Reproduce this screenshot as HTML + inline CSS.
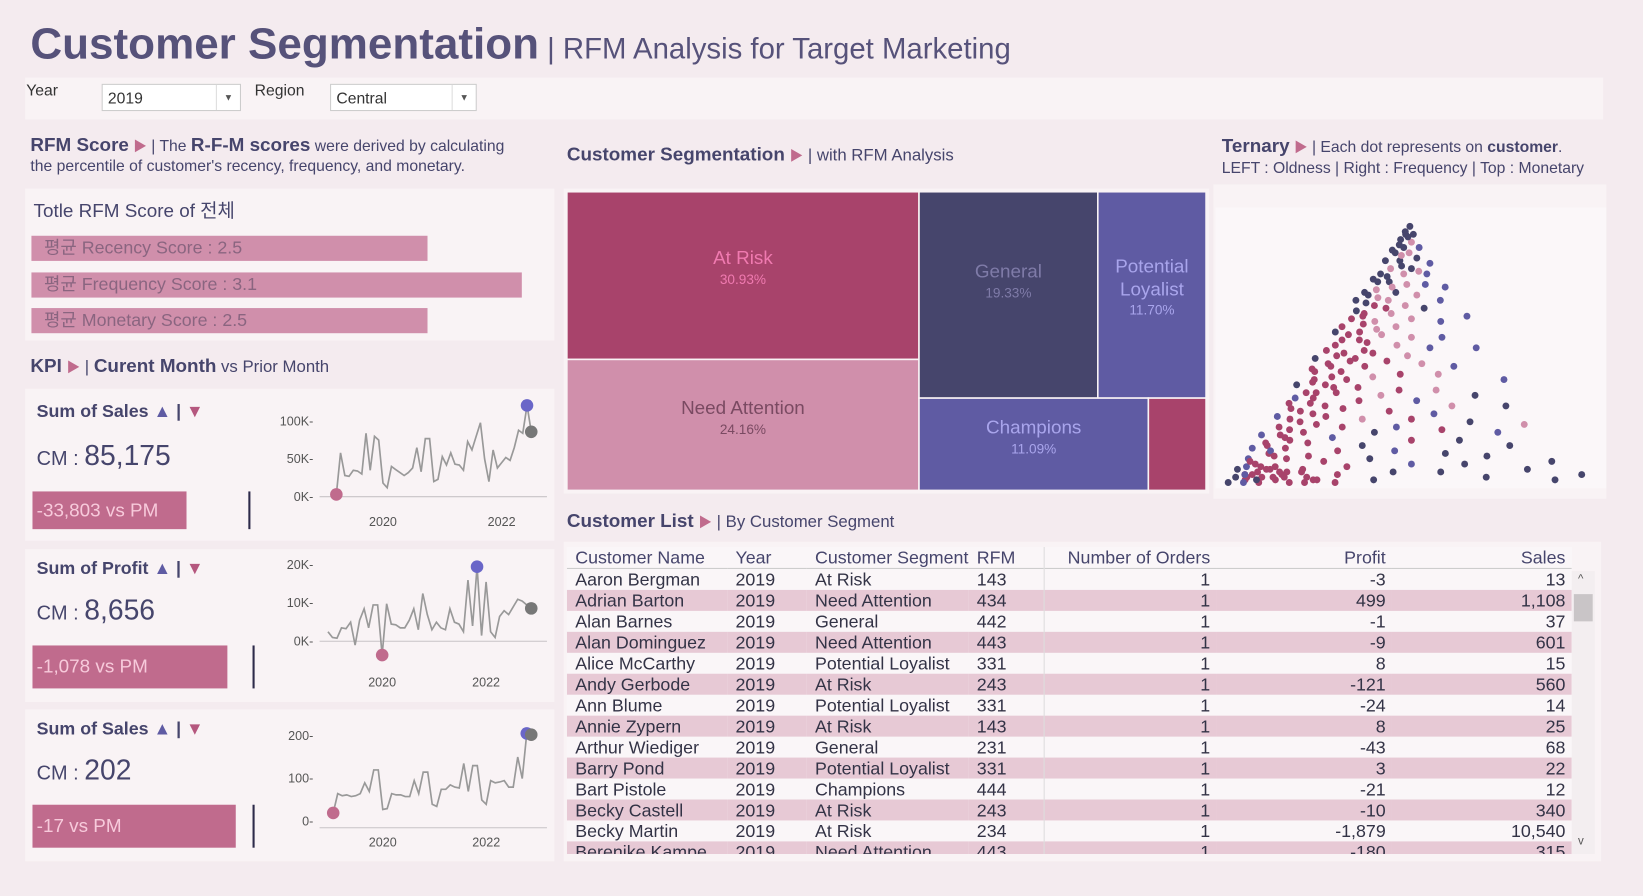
<!DOCTYPE html>
<html><head><meta charset="utf-8">
<style>
html,body{margin:0;padding:0;background:#f4ebef;overflow:hidden;width:1643px;height:896px}
#root{position:absolute;left:0;top:0;width:1568px;height:855px;transform:scale(1.04783);transform-origin:0 0;font-family:"Liberation Sans","Noto Sans CJK KR",sans-serif;color:#46456c}
.a{position:absolute;white-space:nowrap}
.panel{position:absolute;background:#f9f3f5}
.b{font-weight:bold}
.tri{color:#c06b8d;font-size:13px}
.dd{position:absolute;background:#fff;border:1px solid #ccc;height:26px;font-size:15px;line-height:28px;padding-left:5px;box-sizing:border-box;color:#333}
.dd span{position:absolute;right:0;top:0;width:22px;height:24px;border-left:1px solid #ddd;text-align:center;font-size:9px;color:#555;line-height:24px}
.bar{position:absolute;left:30px;height:24px;background:#d08fab;color:#8a6580;font-size:17px;line-height:24px;padding-left:12px;box-sizing:border-box}
.kt{font-size:17px;font-weight:bold;color:#46456c}
.cm{font-size:19px;color:#46456c}
.cm b{font-size:27px;font-weight:normal}
.box{position:absolute;left:31px;background:#c06b8d;color:#f7cadb;font-size:18px;padding-left:4px;box-sizing:border-box}
.vl{position:absolute;width:2px;background:#2d2a4a}
table{border-collapse:collapse;font-size:17px;color:#333346}
td,th{height:20px;padding:0 0 0 8px;font-weight:normal;white-space:nowrap;line-height:19px}
tr.alt td{background:#e7c9d5}
.r{text-align:right;padding-right:6px}
</style></head><body>
<div id="root">
<div class="a" style="left:29px;top:18px;font-size:42px;font-weight:bold;color:#56527a">Customer Segmentation<span style="font-size:28px;font-weight:normal"> | RFM Analysis for Target Marketing</span></div>

<div class="panel" style="left:24px;top:74px;width:1506px;height:40px"></div>
<div class="a" style="left:25px;top:78px;font-size:15px;color:#333">Year</div>
<div class="dd" style="left:97px;top:80px;width:133px">2019<span>▼</span></div>
<div class="a" style="left:243px;top:78px;font-size:15px;color:#333">Region</div>
<div class="dd" style="left:315px;top:80px;width:140px">Central<span>▼</span></div>

<div class="a" style="left:29px;top:129px;font-size:15px;line-height:19px;color:#46456c"><span class="b" style="font-size:18px">RFM Score</span> <span class="tri">▶</span> | The <span class="b" style="font-size:18px">R-F-M scores</span> were derived by calculating<br>the percentile of customer's recency, frequency, and monetary.</div>

<div class="panel" style="left:24px;top:180px;width:505px;height:145px"></div>
<div class="a" style="left:32px;top:187px;font-size:18px;color:#46456c">Totle RFM Score of 전체</div>
<div id="bars"></div>

<div class="a" style="left:29px;top:339px;font-size:16px;color:#46456c"><span class="b" style="font-size:18px">KPI</span> <span class="tri">▶</span> | <span class="b" style="font-size:18px">Curent Month</span> vs Prior Month</div>

<div class="panel" style="left:24px;top:371px;width:505px;height:145px"></div>
<div class="panel" style="left:24px;top:524px;width:505px;height:146px"></div>
<div class="panel" style="left:24px;top:677px;width:505px;height:145px"></div>

<div class="a kt" style="left:35px;top:383px">Sum of Sales <span style="color:#5f5ba3">▲</span> | <span style="color:#b5577e">▼</span></div>
<div class="a cm" style="left:35px;top:420px">CM : <b>85,175</b></div>
<div class="box" style="top:469px;width:147px;height:36px;line-height:36px">-33,803 vs PM</div>
<div class="vl" style="left:237px;top:469px;height:36px"></div>

<div class="a kt" style="left:35px;top:533px">Sum of Profit <span style="color:#5f5ba3">▲</span> | <span style="color:#b5577e">▼</span></div>
<div class="a cm" style="left:35px;top:567px">CM : <b>8,656</b></div>
<div class="box" style="top:616px;width:186px;height:41px;line-height:41px">-1,078 vs PM</div>
<div class="vl" style="left:241px;top:616px;height:41px"></div>

<div class="a kt" style="left:35px;top:686px">Sum of Sales <span style="color:#5f5ba3">▲</span> | <span style="color:#b5577e">▼</span></div>
<div class="a cm" style="left:35px;top:720px">CM : <b>202</b></div>
<div class="box" style="top:768px;width:194px;height:41px;line-height:41px">-17 vs PM</div>
<div class="vl" style="left:241px;top:768px;height:41px"></div>

<div class="a" style="left:541px;top:137px;font-size:16px;color:#46456c"><span class="b" style="font-size:18px">Customer Segmentation</span> <span class="tri">▶</span> | with RFM Analysis</div>
<div class="panel" style="left:538px;top:180px;width:616px;height:291px"></div>
<div id="treemap"></div>

<div class="a" style="left:1166px;top:129px;font-size:15px;line-height:20px;color:#46456c"><span class="b" style="font-size:18px">Ternary</span> <span class="tri">▶</span> | Each dot represents on <b>customer</b>.<br>LEFT : Oldness | Right : Frequency | Top : Monetary</div>
<div class="panel" style="left:1158px;top:176px;width:375px;height:300px"></div>
<div class="a" style="left:1160px;top:198px;width:373px;height:268px;background:#fbf7f9"></div>

<div class="a" style="left:541px;top:487px;font-size:16px;color:#46456c"><span class="b" style="font-size:18px">Customer List</span> <span class="tri">▶</span> | By Customer Segment</div>
<div class="panel" style="left:538px;top:517px;width:990px;height:305px;overflow:hidden">
<div style="position:absolute;left:3px;top:5px;width:959px;height:293px;overflow:hidden;background:#faf6f8">
<table id="tbl" style="width:959px">
<colgroup><col style="width:153px"><col style="width:76px"><col style="width:153px"><col style="width:72px"><col style="width:165px"><col style="width:168px"><col style="width:172px"></colgroup>
<thead><tr style="border-bottom:1px solid #ccc;color:#46456c"><th style="text-align:left">Customer Name</th><th style="text-align:left">Year</th><th style="text-align:left">Customer Segment</th><th style="text-align:left">RFM</th><th class="r" style="border-left:1px solid #ddd">Number of Orders</th><th class="r">Profit</th><th class="r">Sales</th></tr></thead>
<tbody id="tbody"></tbody></table>
</div>
<div style="position:absolute;left:962px;top:28px;width:22px;height:270px;background:#f3eef0">
<div style="position:absolute;left:2px;top:22px;width:18px;height:26px;background:#c9c5c7"></div>
<div style="position:absolute;left:6px;top:2px;font-size:11px;color:#555">^</div>
<div style="position:absolute;left:6px;top:252px;font-size:11px;color:#555">v</div>
</div>
</div>

<svg id="svg" width="1568" height="855" style="position:absolute;left:0;top:0"></svg>
</div>

<script>
// ---- RFM score bars ----
const scoreLabels = ["평균 Recency Score : 2.5","평균 Frequency Score : 3.1","평균 Monetary Score : 2.5"];
const scoreValues = [2.5, 3.1, 2.5];
// ---- sparklines ----
const salesValues = [3,58,28,27,35,34,30,84,35,80,75,18,12,40,36,32,28,32,38,65,33,77,77,20,23,53,42,58,43,42,35,73,62,80,98,50,20,62,38,45,52,48,65,88,84,121,86];
const salesTicks = [0,50,100];
const salesTickLabels = ["0K","50K","100K"];
const profitValues = [2.5,1,0.8,3.5,3.3,5,-1,5.5,8.5,3.5,9.5,9.5,-3.6,9.8,4.5,4.3,3.5,3.5,5.5,8.5,3,12.5,7,3,5,3.5,3,8.5,5,4.5,2.5,16,4,19.5,1.5,15.5,2.5,1,6.5,8,7,9,11,10.5,9.5,8.6];
const profitTicks = [0,10,20];
const profitTickLabels = ["0K","10K","20K"];
const qtyValues = [20,65,60,62,58,60,65,90,70,120,120,28,30,65,62,62,58,58,95,65,115,115,40,35,75,75,85,80,78,135,70,130,130,50,40,95,90,92,95,80,80,150,100,205,202];
const qtyTicks = [0,100,200];
const qtyTickLabels = ["0","100","200"];
const yearLabels = ["2020","2022"];
// ---- treemap ----
const segNames = ["At Risk","Need Attention","General","Potential Loyalist","Champions","Other"];
const segShares = [30.93,24.16,19.33,11.70,11.09,2.79];
// ---- ternary: height, distance-from-left-edge, segment ----
const ternH = [.98,.95,.95,.93,.92,.9,.9,.88,.88,.86,.85,.85,.84,.82,.82,.8,.8,.8,.78,.77,.76,.76,.75,.74,.73,.72,.72,.7,.7,.7,.68,.68,.67,.66,.65,.64,.64,.63,.62,.62,.6,.6,.58,.58,.57,.56,.56,.55,.54,.53,.52,.52,.51,.5,.5,.49,.48,.48,.47,.46,.46,.45,.45,.44,.43,.42,.42,.41,.4,.4,.4,.38,.38,.37,.36,.36,.35,.35,.34,.34,.33,.32,.32,.31,.3,.3,.3,.29,.28,.28,.27,.26,.26,.25,.25,.24,.24,.23,.22,.22,.22,.21,.2,.2,.2,.19,.18,.18,.17,.17,.16,.16,.15,.15,.14,.14,.13,.13,.12,.12,.11,.11,.1,.1,.1,.09,.09,.08,.08,.08,.07,.07,.06,.06,.06,.05,.05,.05,.04,.04,.04,.03,.03,.03,.03,.02,.02,.02,.02,.01,.01,.01,.01,.06,.05,.04,.03,.02,.07,.05,.03,.02,.01,.04,
.96,.94,.91,.89,.87,.83,.81,.79,.77,.75,.73,.71,.69,.67,.65,.63,.61,.59,.57,.55,.53,.51,.49,.47,.45,.43,.41,.39,.37,.35,.33,.31,.29,.27,.25,.23,.21,.19,.17,.15,.13,.11,.09,.07,.05,.03,.02,.01,.04,.06];
const ternD = [.3,.2,.6,.1,.5,.3,.7,.15,.45,.6,.05,.3,.8,.2,.5,.1,.4,.7,.05,.25,.45,.65,.85,.15,.35,.55,.1,.02,.3,.75,.2,.45,.6,.08,.35,.9,.15,.5,.25,.7,.05,.4,.03,.18,.32,.5,.68,.1,.25,.42,.6,.85,.05,.15,.3,.48,.02,.22,.38,.1,.55,.7,.28,.04,.18,.45,.62,.33,.08,.22,.9,.02,.14,.28,.45,.6,.08,.2,.38,.75,.12,.3,.52,.04,.18,.65,.85,.25,.1,.42,.58,.03,.2,.33,.5,.7,.12,.88,.06,.27,.45,.6,.15,.38,.78,.02,.1,.25,.5,.65,.05,.18,.35,.8,.02,.12,.28,.45,.08,.6,.2,.72,.03,.14,.38,.9,.25,.06,.5,.65,.12,.32,.02,.2,.82,.08,.45,.58,.15,.3,.96,.03,.1,.22,.7,.06,.14,.4,.88,.02,.1,.18,.3,.11,.16,.07,.13,.24,.04,.2,.06,.09,.22,.05,
.1,.35,.15,.05,.3,.35,.6,.2,.12,.3,.05,.2,.12,.3,.15,.08,.18,.28,.12,.2,.08,.25,.12,.2,.12,.06,.15,.08,.18,.12,.05,.12,.06,.15,.08,.18,.1,.08,.12,.06,.08,.1,.04,.08,.14,.16,.25,.06,.05,.1];
const ternSeg = [2,2,2,2,1,2,3,2,1,2,2,2,3,1,2,2,1,3,2,2,1,3,3,1,2,1,2,2,1,3,0,1,2,2,1,3,0,1,1,3,0,1,2,0,1,1,3,0,0,1,3,3,0,0,0,1,2,0,0,0,1,3,0,0,0,0,1,1,0,0,3,2,0,0,0,1,0,0,1,2,0,0,3,0,0,1,2,0,0,0,3,3,0,1,0,2,0,1,0,0,3,0,0,2,3,3,0,3,0,2,0,0,2,2,3,0,0,3,0,2,0,2,3,0,2,2,0,0,3,2,0,0,2,0,2,0,2,2,0,0,2,2,0,0,2,0,0,2,2,2,0,0,0,0,0,0,0,0,3,0,0,2,0,0,
2,2,2,2,1,2,1,2,2,1,2,1,2,0,0,0,0,1,0,0,0,0,0,0,0,0,0,0,0,0,3,0,0,0,0,0,0,0,0,0,3,0,0,0,0,0,0,3,3,0];
// ---- table ----
const custNames = ["Aaron Bergman","Adrian Barton","Alan Barnes","Alan Dominguez","Alice McCarthy","Andy Gerbode","Ann Blume","Annie Zypern","Arthur Wiediger","Barry Pond","Bart Pistole","Becky Castell","Becky Martin","Berenike Kampe"];
const custSegs = ["At Risk","Need Attention","General","Need Attention","Potential Loyalist","At Risk","Potential Loyalist","At Risk","General","Potential Loyalist","Champions","At Risk","At Risk","Need Attention"];
const custRFM = ["143","434","442","443","331","243","331","143","231","331","444","243","234","443"];
const custProfit = ["-3","499","-1","-9","8","-121","-24","8","-43","3","-21","-10","-1,879","-180"];
const custSales = ["13","1,108","37","601","15","560","14","25","68","22","12","340","10,540","315"];

const NS="http://www.w3.org/2000/svg";
const svg=document.getElementById('svg');
function mk(tag,attrs,parent){const e=document.createElementNS(NS,tag);for(const k in attrs)e.setAttribute(k,attrs[k]);(parent||svg).appendChild(e);return e;}

const barsDiv=document.getElementById('bars');
const barTops=[225,260,294];
scoreValues.forEach((v,i)=>{
  const d=document.createElement('div');
  d.className='bar';
  d.style.top=barTops[i]+'px';
  d.style.width=(v*151)+'px';
  d.textContent=scoreLabels[i];
  
  
  barsDiv.appendChild(d);
});

function spark(values,ticks,tickLabels,cfg,name){
  const n=values.length;
  const xs=i=>cfg.x0+(cfg.x1-cfg.x0)*i/(n-1);
  const ys=v=>cfg.zero-v*cfg.k;
  const g=mk('g',{});
  
  
  mk('line',{x1:305,x2:522,y1:cfg.axis,y2:cfg.axis,stroke:'#c8c3c6','stroke-width':1},g);
  ticks.forEach((t,i)=>{
    const tx=mk('text',{x:299,y:ys(t)+4,'text-anchor':'end','font-size':12,fill:'#555','font-family':'Liberation Sans'},g);
    tx.textContent=tickLabels[i]+'-';
    
    
  });
  cfg.yearIdx.forEach((idx,i)=>{
    const tx=mk('text',{x:xs(idx),y:cfg.lab,'text-anchor':'middle','font-size':12,fill:'#555','font-family':'Liberation Sans'},g);
    tx.textContent=yearLabels[i];
    
    
  });
  const pts=values.map((v,i)=>xs(i).toFixed(1)+','+ys(v).toFixed(1)).join(' ');
  const pl=mk('polyline',{points:pts,fill:'none',stroke:'#999','stroke-width':1.6},g);
  
  
  let mi=0,ma=0;values.forEach((v,i)=>{if(v<values[mi])mi=i;if(v>values[ma])ma=i;});
  const c1=mk('circle',{cx:xs(mi),cy:ys(values[mi]),r:6,fill:'#c06b8d'},g);
  
  
  const c2=mk('circle',{cx:xs(ma),cy:ys(values[ma]),r:6,fill:'#6a66c8'},g);
  
  
  const c3=mk('circle',{cx:xs(n-1),cy:ys(values[n-1]),r:6,fill:'#777'},g);
  
  
}
spark(salesValues,salesTicks,salesTickLabels,{x0:321,x1:507,zero:474,k:0.72,axis:474,lab:502,yearIdx:[11,39]},'sales-sparkline');
spark(profitValues,profitTicks,profitTickLabels,{x0:313,x1:507,zero:612,k:3.65,axis:612,lab:655,yearIdx:[12,35]},'profit-sparkline');
spark(qtyValues,qtyTicks,qtyTickLabels,{x0:318,x1:507,zero:784,k:0.41,axis:790,lab:808,yearIdx:[11,34]},'quantity-sparkline');

(function(){
  const X=541,Y=183,W=610,H=285;
  const tot=segShares.reduce((a,b)=>a+b,0);
  const c1=segShares[0]+segShares[1];
  const w1=W*c1/tot;
  const hA=H*segShares[0]/c1;
  const rest=tot-c1;
  const top=segShares[2]+segShares[3];
  const hT=H*top/rest;
  const wG=(W-w1)*segShares[2]/top;
  const bot=segShares[4]+segShares[5];
  const wC=(W-w1)*segShares[4]/bot;
  const rects=[
    [X,Y,w1,hA],[X,Y+hA,w1,H-hA],[X+w1,Y,wG,hT],[X+w1+wG,Y,W-w1-wG,hT],[X+w1,Y+hT,wC,H-hT],[X+w1+wC,Y+hT,W-w1-wC,H-hT]];
  const fills=['#a8436b','#d08fab','#46456c','#5f5ba3','#5f5ba3','#a8436b'];
  const lab=['#f07ab0','#7a4a62','#7f7ba8','#a9a5ec','#a9a5ec',''];
  const names=['at-risk','need-attention','general','potential-loyalist','champions','other'];
  rects.forEach((r,i)=>{
    const g=mk('g',{});
    
    
    mk('rect',{x:r[0],y:r[1],width:r[2],height:r[3],fill:fills[i],stroke:'#f9f3f5','stroke-width':1.5},g);
    if(i<5){
      const cx=r[0]+r[2]/2;
      let cy=r[1]+r[3]/2-8;
      if(i===2) cy=r[1]+82;
      if(i===3){
        const t1=mk('text',{x:cx,y:r[1]+77,'text-anchor':'middle','font-size':18,fill:lab[i],'font-family':'Liberation Sans'},g);t1.textContent='Potential';
        const t2=mk('text',{x:cx,y:r[1]+99,'text-anchor':'middle','font-size':18,fill:lab[i],'font-family':'Liberation Sans'},g);t2.textContent='Loyalist';
        const t3=mk('text',{x:cx,y:r[1]+117,'text-anchor':'middle','font-size':13,fill:lab[i],'font-family':'Liberation Sans'},g);t3.textContent=segShares[i].toFixed(2)+'%';
        return;
      }
      if(i===0) cy=r[1]+69;
      if(i===1) cy=r[1]+52;
      if(i===4) cy=r[1]+34;
      const t=mk('text',{x:cx,y:cy,'text-anchor':'middle','font-size':18,fill:lab[i],'font-family':'Liberation Sans'},g);t.textContent=segNames[i];
      const p=mk('text',{x:cx,y:cy+19,'text-anchor':'middle','font-size':13,fill:lab[i],'font-family':'Liberation Sans'},g);p.textContent=segShares[i].toFixed(2)+'%';
    }
  });
})();

(function(){
  const L=1163,R=1531,B=463,T=211;
  const cols=['#a8436b','#d08fab','#46456c','#5f5ba3'];
  const g=mk('g',{});
  
  
  ternH.forEach((h,i)=>{
    const d=ternD[i];
    const fx=0.5*h+d*(1-h);
    const c=mk('circle',{cx:L+fx*(R-L),cy:B-h*(B-T),r:3.3,fill:cols[ternSeg[i]]},g);
    
    
  });
})();

const tb=document.getElementById('tbody');
custNames.forEach((n,i)=>{
  const tr=document.createElement('tr');
  if(i%2===1) tr.className='alt';
  
  
  tr.innerHTML='<td>'+n+'</td><td>2019</td><td>'+custSegs[i]+'</td><td>'+custRFM[i]+'</td><td class="r" style="border-left:1px solid #ddd">1</td><td class="r">'+custProfit[i]+'</td><td class="r">'+custSales[i]+'</td>';
  tb.appendChild(tr);
});
</script>
</body></html>
